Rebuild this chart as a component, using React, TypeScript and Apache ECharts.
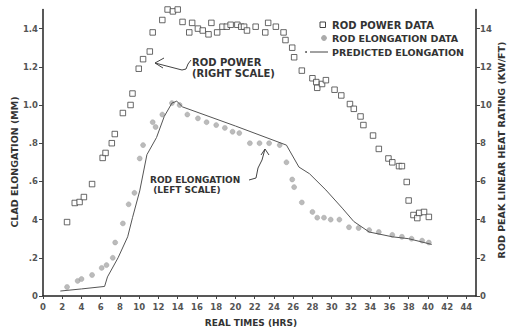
import React, { useEffect, useRef } from "react";
import * as echarts from "echarts";

// Rod power data [time (h), kW/ft] — right scale
const powerPoints: number[][] = [
  [2.5, 3.87], [3.3, 4.87], [3.8, 4.92], [4.25, 5.18], [5.1, 5.86], [6.2, 7.23], [6.5, 7.49],
  [7.15, 8.0], [7.46, 8.48], [8.3, 9.58], [9.1, 10.0], [9.3, 10.6], [9.95, 11.9], [10.4, 12.4],
  [11.1, 12.8], [11.4, 13.8], [12.4, 14.45], [12.95, 15.0], [13.5, 14.9], [14.0, 15.0],
  [14.5, 14.35], [15.2, 13.8], [15.5, 14.3], [16.1, 14.0], [16.6, 13.9], [17.2, 13.7],
  [17.5, 14.3], [18.1, 13.8], [18.65, 14.1], [19.1, 14.1], [19.5, 14.2], [20.2, 14.2],
  [20.6, 14.1], [20.9, 14.1], [21.2, 13.9], [22.1, 14.1], [23.1, 13.8], [23.4, 14.3],
  [24.2, 14.1], [25.0, 13.8], [25.2, 13.4], [25.9, 13.0], [26.1, 12.5], [26.9, 11.8],
  [28.0, 11.4], [28.4, 11.2], [28.5, 10.9], [29.0, 11.1], [29.4, 11.3], [30.3, 10.8],
  [31.0, 10.5], [31.9, 10.05], [32.3, 9.8], [33.0, 9.4], [33.3, 8.95], [34.3, 8.4],
  [34.9, 7.7], [35.9, 7.2], [36.3, 7.0], [37.0, 6.8], [37.3, 6.8], [37.8, 5.97], [38.0, 5.0],
  [38.5, 4.24], [38.9, 4.08], [39.1, 4.35], [39.6, 4.4], [40.1, 4.14],
];

// Rod elongation data [time (h), mm] — left scale
const elongPoints: number[][] = [
  [2.5, 0.047], [3.6, 0.079], [4.0, 0.089], [5.1, 0.11], [6.1, 0.147], [6.6, 0.162],
  [7.25, 0.2], [7.5, 0.28], [8.3, 0.38], [8.9, 0.48], [9.5, 0.54], [10.05, 0.72], [10.4, 0.79],
  [11.4, 0.91], [11.7, 0.885], [12.4, 0.95], [13.4, 1.01], [14.2, 1.0], [15.0, 0.95],
  [16.1, 0.93], [17.0, 0.91], [18.0, 0.895], [18.9, 0.88], [19.7, 0.86], [20.4, 0.853],
  [21.5, 0.8], [22.5, 0.8], [23.5, 0.8], [24.6, 0.79], [25.3, 0.7], [25.9, 0.61], [26.1, 0.57],
  [26.9, 0.49], [28.0, 0.44], [28.5, 0.41], [29.2, 0.41], [29.9, 0.4], [30.8, 0.4],
  [31.8, 0.36], [32.8, 0.356], [33.9, 0.345], [34.9, 0.335], [36.3, 0.32], [37.3, 0.31],
  [38.3, 0.3], [39.4, 0.29], [40.1, 0.28],
];

// Predicted elongation [time (h), mm]
const predictedPoints: number[][] = [
  [1.8, 0.026], [4.0, 0.037], [6.4, 0.05], [6.7, 0.1], [7.8, 0.2], [8.8, 0.31], [9.3, 0.41],
  [10.05, 0.55], [10.8, 0.74], [11.8, 0.83], [12.6, 0.94], [13.4, 1.01], [13.9, 1.02],
  [14.5, 0.99], [20.0, 0.89], [25.3, 0.79], [26.6, 0.675], [27.7, 0.64], [29.4, 0.555],
  [31.1, 0.46], [32.3, 0.39], [33.9, 0.335], [36.3, 0.31], [38.0, 0.3], [40.4, 0.27],
];

const leftTickLabels: Record<string, string> = {
  "0": "0", "0.2": ".2", "0.4": "4", "0.6": ".6", "0.8": ".8", "1": "1.0", "1.2": "1.2", "1.4": "1.4",
};

const FONT = "'DejaVu Sans', sans-serif";
const INK = "#333";

export default function App() {
  const ref = useRef<HTMLDivElement>(null);
  useEffect(() => {
    document.body.style.margin = "0";
    if (!ref.current) return;
    const chart = echarts.init(ref.current, null, { renderer: "svg" });
    const tickLabel = { color: "#555", fontSize: 8.5, fontWeight: "bold" as const, fontFamily: FONT };
    const axisLine = { show: true, lineStyle: { color: "#222", width: 1.5 } };
    const txt = (text: string, size: number, extra: any = {}) => ({
      text, fontSize: size, fontWeight: "bold", fontFamily: FONT, fill: INK, verticalAlign: "middle", ...extra,
    });
    chart.setOption({
      animation: false,
      backgroundColor: "#fff",
      grid: { left: 43, right: 32, top: 9.5, bottom: 40, containLabel: false },
      xAxis: {
        type: "value", min: 0, max: 45, interval: 2,
        axisLine, splitLine: { show: false },
        axisTick: { show: true, length: 3, lineStyle: { color: "#444" } },
        axisLabel: { ...tickLabel, margin: 6, showMaxLabel: false },
      },
      yAxis: [
        {
          type: "value", min: 0, max: 1.5, interval: 0.2, position: "left",
          axisLine, splitLine: { show: false },
          axisTick: { show: true, length: 4, lineStyle: { color: "#444" } },
          axisLabel: {
            ...tickLabel, margin: 5, showMaxLabel: false,
            formatter: (v: number) => leftTickLabels[String(Math.round(v * 10) / 10)] ?? "",
          },
        },
        {
          type: "value", min: 0, max: 15, interval: 2, position: "right",
          axisLine, splitLine: { show: false },
          axisTick: { show: true, length: 4, lineStyle: { color: "#444" } },
          axisLabel: { ...tickLabel, margin: 4, showMaxLabel: false },
        },
      ],
      series: [
        {
          name: "ROD POWER DATA", type: "scatter", yAxisIndex: 1, data: powerPoints,
          symbol: "rect", symbolSize: 5.5,
          itemStyle: { color: "#fff", borderColor: "#444", borderWidth: 1 },
        },
        {
          name: "ROD ELONGATION DATA", type: "scatter", yAxisIndex: 0, data: elongPoints,
          symbol: "circle", symbolSize: 5,
          itemStyle: { color: "#aaa", borderColor: "#999", borderWidth: 0.5 },
        },
        {
          name: "PREDICTED ELONGATION", type: "line", yAxisIndex: 0, data: predictedPoints,
          showSymbol: false, symbol: "none",
          lineStyle: { color: "#555", width: 1 },
        },
      ],
      graphic: [
        // legend
        { type: "rect", shape: { x: 320, y: 22, width: 5.5, height: 5.5 }, style: { fill: "#fff", stroke: "#444", lineWidth: 1 } },
        { type: "text", x: 332, y: 25, style: txt("ROD POWER DATA", 10) },
        { type: "circle", shape: { cx: 324, cy: 38, r: 2.6 }, style: { fill: "#aaa", stroke: "#999", lineWidth: 0.5 } },
        { type: "text", x: 332, y: 38, style: txt("ROD ELONGATION DATA", 9.5) },
        { type: "circle", shape: { cx: 306, cy: 52, r: 0.9 }, style: { fill: "#444" } },
        { type: "line", shape: { x1: 310, y1: 52, x2: 328, y2: 52 }, style: { stroke: "#444", lineWidth: 1 } },
        { type: "text", x: 332, y: 52, style: txt("PREDICTED ELONGATION", 9.5) },
        // axis titles
        { type: "text", x: 14, y: 162, rotation: Math.PI / 2, style: txt("CLAD ELONGATION (MM)", 9.5, { align: "center" }) },
        { type: "text", x: 501, y: 150, rotation: Math.PI / 2, style: txt("ROD PEAK LINEAR HEAT RATING (KW/FT)", 9.5, { align: "center" }) },
        { type: "text", x: 251, y: 323, style: txt("REAL TIMES (HRS)", 9, { align: "center" }) },
        // annotation: rod power
        { type: "text", x: 192, y: 68, style: txt("ROD POWER\n(RIGHT SCALE)", 10, { lineHeight: 11 }) },
        { type: "polyline", shape: { points: [[155, 63], [182, 70], [186, 69], [188, 64], [191, 60]] }, style: { stroke: "#444", lineWidth: 1, fill: null } },
        { type: "polyline", shape: { points: [[164, 58], [155, 63], [163, 68]] }, style: { stroke: "#444", lineWidth: 1, fill: null } },
        // annotation: rod elongation
        { type: "text", x: 150, y: 185, style: txt("ROD ELONGATION\n (LEFT SCALE)", 9, { lineHeight: 10.5 }) },
        { type: "polyline", shape: { points: [[249, 180], [256, 178], [258, 168], [262, 160], [265, 149]] }, style: { stroke: "#444", lineWidth: 1, fill: null } },
        { type: "polyline", shape: { points: [[261, 155], [265, 149], [269, 155]] }, style: { stroke: "#444", lineWidth: 1, fill: null } },
      ],
    });
    return () => chart.dispose();
  }, []);
  return <div ref={ref} style={{ width: 508, height: 336 }} />;
}
